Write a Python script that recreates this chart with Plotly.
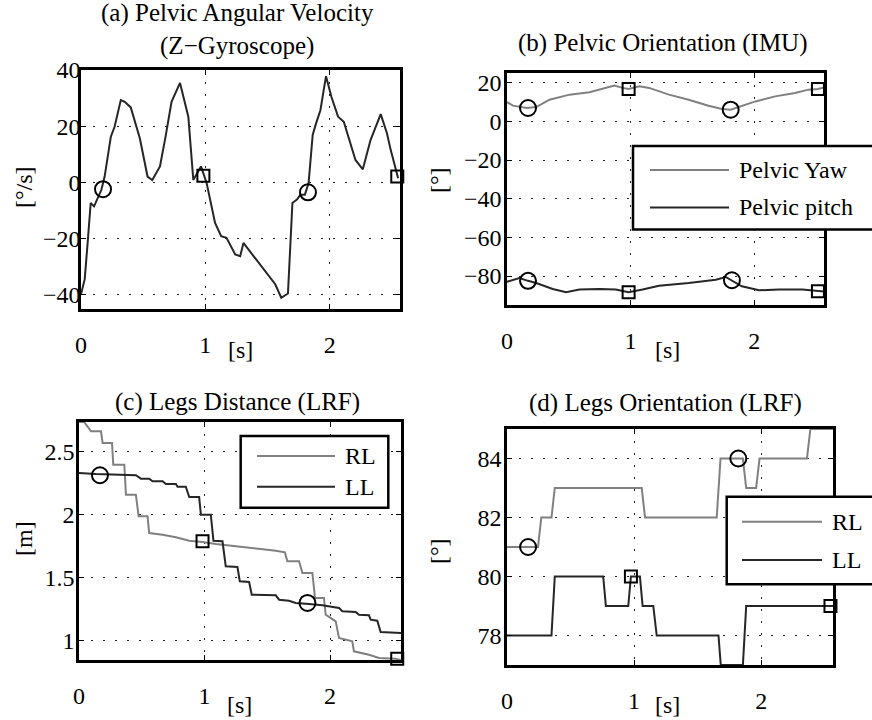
import plotly.graph_objects as go

W, H = 872, 720
FONT = "Liberation Serif"
GRAY = "#808080"
DARK = "#262626"

# ---------------- (a) Pelvic angular velocity, Z gyroscope [deg/s]
gyro_t = [0, 0.03, 0.056, 0.078, 0.105, 0.137, 0.164, 0.19, 0.24, 0.27, 0.32, 0.352,
          0.40, 0.473, 0.535, 0.573, 0.635, 0.68, 0.728, 0.796, 0.863, 0.903, 0.965,
          1.01, 1.078, 1.127, 1.17, 1.24, 1.28, 1.306, 1.562, 1.61, 1.664, 1.70, 1.736,
          1.764, 1.80, 1.83, 1.863, 1.89, 1.925, 1.97, 2.014, 2.067, 2.113, 2.207, 2.266,
          2.328, 2.41, 2.46, 2.49, 2.55]
gyro_v = [-39.8, -34.4, -20, -7.3, -8.5, -5.5, -2.6, 2.1, 16.3, 19.8, 29.3, 28.7,
          26.7, 15.7, 2.1, 0.9, 5.7, 16.3, 28.7, 35.4, 23.4, 0.9, 5.7,
          -0.2, -14.4, -19.1, -19.7, -25.6, -26.2, -21.5, -36.2, -41, -39.5, -7.3, -6.1,
          -4.4, -4.4, -0.2, 16.9, 21, 25.7, 37.8, 30.4, 23.4, 21.6, 8.0, 4.7,
          15.1, 24.3, 17.5, 11.6, 1.5]
gyro_circle_t = [0.177, 1.825]
gyro_circle_v = [-2.4, -3.5]
gyro_square_t = [0.984, 2.543]
gyro_square_v = [2.4, 2.1]

# ---------------- (b) Pelvic orientation from the IMU [deg]
yaw_t = [0, 0.048, 0.16, 0.236, 0.344, 0.506, 0.667, 0.774, 0.869, 0.935, 0.984, 1.07,
         1.15, 1.31, 1.47, 1.63, 1.74, 1.81, 1.88, 2.01, 2.17, 2.33, 2.44, 2.516, 2.565]
yaw_v = [10, 8.1, 6.9, 7.4, 11.2, 13.8, 15, 16.7, 18.5, 17.3, 16.7, 18.1,
         17.3, 13.8, 11.2, 8.1, 6.4, 6.0, 7.4, 10.3, 12.9, 14.7, 16.4, 16.7, 17.5]
pitch_t = [0, 0.1, 0.17, 0.236, 0.37, 0.478, 0.586, 0.748, 0.88, 0.984, 1.097, 1.23,
           1.47, 1.69, 1.77, 1.82, 1.90, 2.04, 2.2, 2.39, 2.516, 2.565]
pitch_v = [-83, -81, -82.5, -83.6, -86.7, -88.4, -87, -86.7, -87, -88.4, -87, -85,
           -83.6, -81.9, -80.5, -82.2, -85.3, -87.4, -87, -87, -87.9, -88]
imu_circle_t = [0.17, 1.81, 0.17, 1.82]
imu_circle_v = [6.9, 6.0, -82.5, -82.2]
imu_square_t = [0.984, 2.516, 0.984, 2.516]
imu_square_v = [16.7, 16.7, -88.4, -87.9]

# ---------------- (c) Legs distance from the laser range finder [m]
dist_rl_t = [0, 0.04, 0.07, 0.095, 0.175, 0.188, 0.263, 0.273, 0.361, 0.374, 0.453,
             0.475, 0.546, 0.559, 0.666, 0.772, 0.878, 0.984, 1.09, 1.223, 1.355, 1.461,
             1.567, 1.64, 1.66, 1.753, 1.78, 1.859, 1.88, 1.951, 1.965, 2.045, 2.071,
             2.177, 2.19, 2.31, 2.39, 2.52, 2.565]
dist_rl_v = [2.738, 2.738, 2.70, 2.664, 2.664, 2.571, 2.571, 2.398, 2.398, 2.159, 2.159,
             1.987, 1.987, 1.854, 1.841, 1.82, 1.793, 1.783, 1.767, 1.753, 1.74, 1.727,
             1.713, 1.70, 1.629, 1.629, 1.536, 1.536, 1.337, 1.337, 1.204, 1.151, 1.018,
             0.992, 0.912, 0.885, 0.859, 0.853, 0.843]
dist_ll_t = [0, 0.135, 0.453, 0.493, 0.559, 0.586, 0.666, 0.692, 0.772, 0.785, 0.851,
             0.878, 0.957, 0.971, 1.05, 1.071, 1.143, 1.169, 1.262, 1.281, 1.355, 1.376,
             1.567, 1.594, 1.673, 1.726, 1.832, 1.939, 2.071, 2.098, 2.204, 2.23, 2.31,
             2.323, 2.376, 2.403, 2.565]
dist_ll_v = [2.332, 2.324, 2.314, 2.287, 2.287, 2.266, 2.266, 2.244, 2.244, 2.223, 2.223,
             2.141, 2.141, 2.0, 2.0, 1.793, 1.788, 1.589, 1.584, 1.47, 1.465, 1.363,
             1.358, 1.323, 1.315, 1.297, 1.289, 1.279, 1.257, 1.231, 1.226, 1.204, 1.199,
             1.164, 1.156, 1.066, 1.058]
dist_circle_t = [0.167, 1.82]
dist_circle_v = [2.314, 1.297]
dist_square_t = [0.984, 2.535]
dist_square_v = [1.788, 0.853]

# ---------------- (d) Legs orientation from the laser range finder [deg]
ori_rl_t = [0, 0.244, 0.27, 0.35, 0.376, 1.06, 1.086, 1.65, 1.68, 1.856, 1.882, 1.96,
            1.987, 2.36, 2.387, 2.565]
ori_rl_v = [81, 81, 82, 82, 83, 83, 82, 82, 84, 84, 83, 83, 84, 84, 85, 85]
ori_ll_t = [0, 0.35, 0.376, 0.757, 0.778, 0.954, 0.975, 1.046, 1.067, 1.151, 1.178,
            1.664, 1.682, 1.856, 1.882, 2.565]
ori_ll_v = [78, 78, 80, 80, 79, 79, 80, 80, 79, 79, 78, 78, 77, 77, 79, 79]
ori_circle_t = [0.166, 1.82]
ori_circle_v = [81, 84]
ori_square_t = [0.975, 2.545]
ori_square_v = [80, 79]

T_MAX = 2.565
TXT = 24      # tick labels, axis labels, legend text
TITLE = 25    # panel titles


def px(x):
    return x / W


def py(y):
    return 1 - y / H


fig = go.Figure()


def add_line(t, v, color, name, xa, ya):
    fig.add_trace(go.Scatter(x=t, y=v, mode="lines", name=name, showlegend=False,
                             line=dict(color=color, width=2), xaxis=xa, yaxis=ya))


def add_events(t, v, symbol, size, xa, ya):
    fig.add_trace(go.Scatter(x=t, y=v, mode="markers", showlegend=False, cliponaxis=False,
                             marker=dict(symbol=symbol, size=size, color="black",
                                         line=dict(color="black", width=2)),
                             xaxis=xa, yaxis=ya))


add_line(gyro_t, gyro_v, DARK, "Z-Gyroscope", "x", "y")
add_events(gyro_circle_t, gyro_circle_v, "circle-open", 16, "x", "y")
add_events(gyro_square_t, gyro_square_v, "square-open", 12, "x", "y")

add_line(yaw_t, yaw_v, GRAY, "Pelvic Yaw", "x2", "y2")
add_line(pitch_t, pitch_v, DARK, "Pelvic pitch", "x2", "y2")
add_events(imu_circle_t, imu_circle_v, "circle-open", 16, "x2", "y2")
add_events(imu_square_t, imu_square_v, "square-open", 12, "x2", "y2")

add_line(dist_rl_t, dist_rl_v, GRAY, "RL", "x3", "y3")
add_line(dist_ll_t, dist_ll_v, DARK, "LL", "x3", "y3")
add_events(dist_circle_t, dist_circle_v, "circle-open", 16, "x3", "y3")
add_events(dist_square_t, dist_square_v, "square-open", 12, "x3", "y3")

add_line(ori_rl_t, ori_rl_v, GRAY, "RL", "x4", "y4")
add_line(ori_ll_t, ori_ll_v, DARK, "LL", "x4", "y4")
add_events(ori_circle_t, ori_circle_v, "circle-open", 16, "x4", "y4")
add_events(ori_square_t, ori_square_v, "square-open", 12, "x4", "y4")

TICKFONT = dict(family=FONT, size=TXT, color="black")


def axis(**kw):
    base = dict(showline=True, linecolor="black", linewidth=2.5, mirror="allticks",
                ticks="inside", ticklen=5, tickwidth=1.2, tickcolor="black",
                showgrid=True, gridcolor="#222222", gridwidth=1.3, griddash="2px,10px",
                zeroline=False, tickfont=TICKFONT, fixedrange=True)
    base.update(kw)
    return base


# plot areas in pixels: (left, top, right, bottom)
boxes = {
    "1": (81, 70, 400, 309),
    "2": (507, 73, 824, 305),
    "3": (79, 422, 401, 660),
    "4": (507, 429, 833, 665),
}
yspecs = {
    "1": dict(range=[-45, 40], dtick=20, tick0=0, ticklabelstandoff=-7),
    "2": dict(range=[-95, 25], dtick=20, tick0=0, ticklabelstandoff=-2),
    "3": dict(range=[0.843, 2.738], dtick=0.5, tick0=0, ticklabelstandoff=-3),
    "4": dict(range=[77, 85], dtick=2, tick0=0, ticklabelstandoff=-2),
}

layout = dict(width=W, height=H, margin=dict(l=0, r=0, t=0, b=0, autoexpand=False),
              paper_bgcolor="white", plot_bgcolor="white", showlegend=False,
              font=dict(family=FONT, size=TXT, color="black"))
for k, (l, t, r, b) in boxes.items():
    sx = "" if k == "1" else k
    layout["xaxis" + sx] = axis(domain=[px(l), px(r)], range=[0, T_MAX], dtick=1, tick0=0,
                                anchor="y" + sx, ticklabelstandoff=12)
    layout["yaxis" + sx] = axis(domain=[py(b), py(t)], anchor="x" + sx, **yspecs[k])
fig.update_layout(**layout)

# titles and axis labels
texts = [
    ("(a) Pelvic Angular Velocity<br>(Z\u2212Gyroscope)", 238, 30, 0, TITLE),
    ("(b) Pelvic Orientation (IMU)", 663, 43, 0, TITLE),
    ("(c) Legs Distance (LRF)", 238, 402, 0, TITLE),
    ("(d) Legs Orientation (LRF)", 665, 403, 0, TITLE),
    ("[s]", 240, 350, 0, TXT),
    ("[s]", 667, 350, 0, TXT),
    ("[s]", 239, 705, 0, TXT),
    ("[s]", 667, 705, 0, TXT),
    ("[\u00b0/s]", 24, 187, -90, TXT),
    ("[\u00b0]", 439, 180, -90, TXT),
    ("[m]", 24, 539, -90, TXT),
    ("[\u00b0]", 439, 551, -90, TXT),
]
for txt, x, y, ang, size in texts:
    fig.add_annotation(text=txt, x=px(x), y=py(y), xref="paper", yref="paper",
                       xanchor="center", yanchor="middle", showarrow=False, textangle=ang,
                       font=dict(family=FONT, size=size, color="black"))

# boxed legends: (box left, top, right, bottom, sample x0, x1, text x, rows)
legends = [
    (633, 146, 960, 229.5, 650, 729, 737,
     [("Pelvic Yaw", GRAY, 170), ("Pelvic pitch", DARK, 207.5)]),
    (240.7, 436, 388.3, 507.7, 257, 335, 343,
     [("RL", GRAY, 456), ("LL", DARK, 486.7)]),
    (726.7, 496.7, 960, 584.3, 742, 822, 830,
     [("RL", GRAY, 521.7), ("LL", DARK, 560)]),
]
for bl, bt, br, bb, s0, s1, tx, rows in legends:
    fig.add_shape(type="rect", xref="paper", yref="paper", x0=px(bl), x1=px(br),
                  y0=py(bb), y1=py(bt), fillcolor="white",
                  line=dict(color="black", width=2.5), layer="above")
    for name, color, ry in rows:
        fig.add_shape(type="line", xref="paper", yref="paper", x0=px(s0), x1=px(s1),
                      y0=py(ry), y1=py(ry), line=dict(color=color, width=2), layer="above")
        fig.add_annotation(text=name, x=px(tx), y=py(ry), xref="paper", yref="paper",
                           xanchor="left", yanchor="middle", showarrow=False,
                           font=dict(family=FONT, size=TXT, color="black"))

fig.write_html("out.html")
